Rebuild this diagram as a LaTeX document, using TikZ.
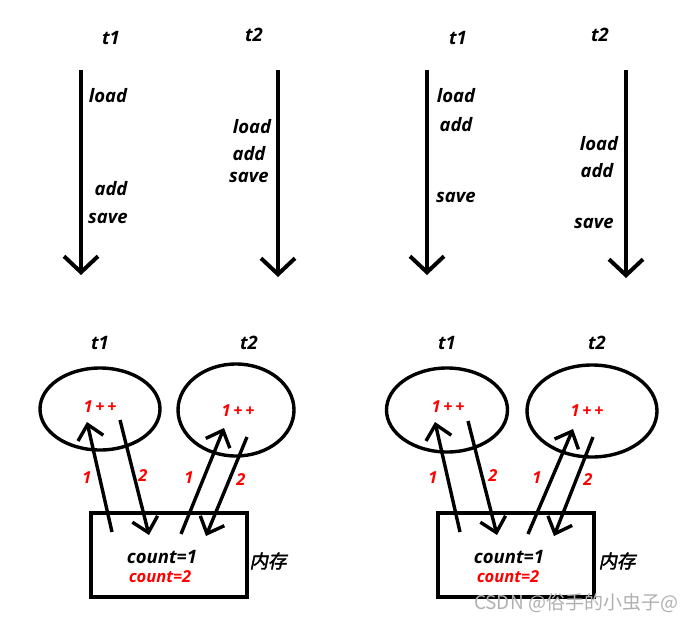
\documentclass[tikz,border=0pt]{standalone}
\usepackage{fontspec}
\setmainfont{Open Sans}
\newfontfamily\cjkfont{Noto Sans CJK SC}[FakeSlant=0.2,FakeBold=2]
\newfontfamily\wmfont{Noto Sans CJK SC}
\usetikzlibrary{arrows.meta,shapes.geometric}
\definecolor{opRed}{HTML}{FF0000}
\definecolor{wmGray}{HTML}{B0B0B0}

\begin{document}
\begin{tikzpicture}[
  x=1pt, y=-1pt,
  lbl/.style={font=\fontsize{18.5}{22}\selectfont\bfseries\itshape, inner sep=0pt},
  redlbl/.style={lbl, text=opRed, font=\fontsize{16.5}{20}\selectfont\bfseries\itshape},
  timeline/.style={-{Straight Barb[length=16pt,width=34pt]}, line width=4pt},
  rw/.style={-{Straight Barb[length=14pt,width=26pt]}, line width=3.4pt},
  proc/.style={ellipse, draw, line width=3.4pt, inner sep=0pt},
  mem/.style={draw, line width=3.6pt, minimum width=156pt, minimum height=84pt, inner sep=0pt},
]
\useasboundingbox (0,0) rectangle (696,621);

% ── Top left: t1 / t2 timelines ──────────────────────────────────────────────
\node[lbl] (ta1) at (111,38) {t1};
\node[lbl] (ta2) at (254,35) {t2};
\coordinate (ta1s) at (81,70);  \coordinate (ta1e) at (81,275);
\coordinate (ta2s) at (278,70); \coordinate (ta2e) at (278,277);
\draw[timeline] (ta1s) -- (ta1e);
\draw[timeline] (ta2s) -- (ta2e);
\node[lbl] (la1) at (108,96)  {load};
\node[lbl] (aa1) at (111,189) {add};
\node[lbl] (sa1) at (108,218) {save};
\node[lbl] (la2) at (252,127) {load};
\node[lbl] (aa2) at (249,154) {add};
\node[lbl] (sa2) at (249,177) {save};

% ── Top right: t1 / t2 timelines ─────────────────────────────────────────────
\node[lbl] (tb1) at (458,38) {t1};
\node[lbl] (tb2) at (600,35) {t2};
\coordinate (tb1s) at (427,70); \coordinate (tb1e) at (427,275);
\coordinate (tb2s) at (626,70); \coordinate (tb2e) at (626,278);
\draw[timeline] (tb1s) -- (tb1e);
\draw[timeline] (tb2s) -- (tb2e);
\node[lbl] (lb1) at (456,96)  {load};
\node[lbl] (ab1) at (456,125) {add};
\node[lbl] (sb1) at (456,197) {save};
\node[lbl] (lb2) at (599,144) {load};
\node[lbl] (ab2) at (597,171) {add};
\node[lbl] (sb2) at (594,223) {save};

% ── Bottom left: threads and memory ──────────────────────────────────────────
\node[lbl] (pa1t) at (100,343) {t1};
\node[lbl] (pa2t) at (249,343) {t2};
\node[proc, minimum width=120pt, minimum height=82pt] (pa1) at (100,409) {};
\node[proc, minimum width=116pt, minimum height=92pt] (pa2) at (236,410) {};
\node[redlbl] (inca1) at (100,407) {1\,+\,+};
\node[redlbl] (inca2) at (238,411) {1\,+\,+};
\node[mem] (mema) at (169,555) {};
\node[lbl] (cnta1) at (162,557) {count=1};
\node[redlbl] (cnta2) at (160,577) {count=2};
\node[lbl, font=\fontsize{18.5}{22}\selectfont\cjkfont] (rama) at (268,561) {内存};

\coordinate (ra1s) at (112,532); \coordinate (ra1e) at (87,422);
\coordinate (ra2s) at (120,420); \coordinate (ra2e) at (149,535);
\coordinate (ra3s) at (181,534); \coordinate (ra3e) at (224,428);
\coordinate (ra4s) at (247,437); \coordinate (ra4e) at (206,536);
\draw[rw] (ra1s) -- (ra1e);
\draw[rw] (ra2s) -- (ra2e);
\draw[rw] (ra3s) -- (ra3e);
\draw[rw] (ra4s) -- (ra4e);
\node[redlbl] at (87,478)  {1};
\node[redlbl] at (143,476) {2};
\node[redlbl] at (189,478) {1};
\node[redlbl] at (241,480) {2};

% ── Bottom right: threads and memory ─────────────────────────────────────────
\node[lbl] (pb1t) at (447,343) {t1};
\node[lbl] (pb2t) at (597,343) {t2};
\node[proc, minimum width=121pt, minimum height=84pt] (pb1) at (447,410) {};
\node[proc, minimum width=130pt, minimum height=92pt] (pb2) at (592,411) {};
\node[redlbl] (incb1) at (448,407) {1\,+\,+};
\node[redlbl] (incb2) at (587,411) {1\,+\,+};
\node[mem] (memb) at (516,555) {};
\node[lbl] (cntb1) at (509,557) {count=1};
\node[redlbl] (cntb2) at (508,577) {count=2};
\node[lbl, font=\fontsize{18.5}{22}\selectfont\cjkfont] (ramb) at (617,561) {内存};

\coordinate (rb1s) at (460,532); \coordinate (rb1e) at (435,422);
\coordinate (rb2s) at (468,421); \coordinate (rb2e) at (497,535);
\coordinate (rb3s) at (528,534); \coordinate (rb3e) at (573,429);
\coordinate (rb4s) at (593,437); \coordinate (rb4e) at (554,536);
\draw[rw] (rb1s) -- (rb1e);
\draw[rw] (rb2s) -- (rb2e);
\draw[rw] (rb3s) -- (rb3e);
\draw[rw] (rb4s) -- (rb4e);
\node[redlbl] at (433,478) {1};
\node[redlbl] at (493,476) {2};
\node[redlbl] at (537,478) {1};
\node[redlbl] at (588,480) {2};

% ── Watermark ────────────────────────────────────────────────────────────────
\node[text=wmGray, font=\fontsize{19}{22}\selectfont\wmfont, inner sep=0pt] (wm) at (576,603) {CSDN @俗手的小虫子@};

\end{tikzpicture}
\end{document}
